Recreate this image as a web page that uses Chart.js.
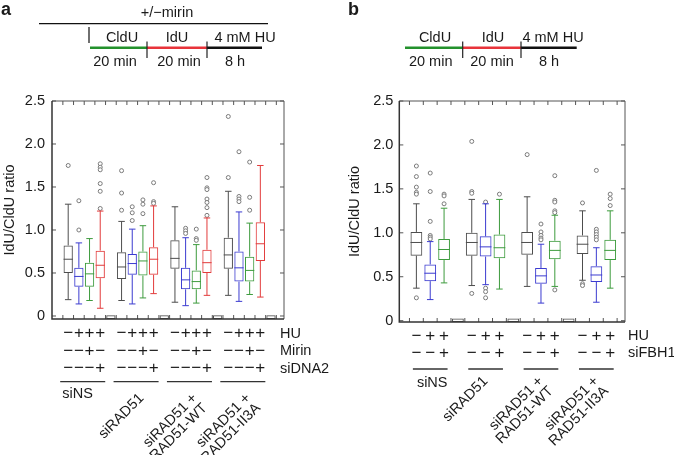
<!DOCTYPE html>
<html>
<head>
<meta charset="utf-8">
<script src="https://cdn.jsdelivr.net/npm/chart.js@4.4.1/dist/chart.umd.min.js"></script>
<style>
  html, body { margin: 0; padding: 0; background: #fff; }
  #wrap { position: relative; width: 674px; height: 455px; }
  .panel { position: absolute; top: 0; width: 337px; height: 455px; }
  #pa { left: 0; }
  #pb { left: 337px; }
</style>
</head>
<body>
<div id="wrap">
  <div class="panel" id="pa"><canvas id="chartA" width="337" height="455"></canvas></div>
  <div class="panel" id="pb"><canvas id="chartB" width="337" height="455"></canvas></div>
</div>
<script>
// box colours
const GRAY = '#4d4d4d', BLUE = '#3b3bd0', GREEN = '#3d9b3d', RED = '#e23b3b';

const yTicks = [0, 0.5, 1, 1.5, 2, 2.5];
const yTickLabels = ['0', '0.5', '1.0', '1.5', '2.0', '2.5'];

// ---- panel a : 4 groups x 4 boxes, an empty lane after each group ----
const slotsA = [1, 2, 3, 4, 6, 7, 8, 9, 11, 12, 13, 14, 16, 17, 18, 19];
const emptySlotsA = [5, 10, 15, 20];
const colorsA = [GRAY, BLUE, GREEN, RED, GRAY, BLUE, GREEN, RED, GRAY, BLUE, GREEN, RED, GRAY, BLUE, GREEN, RED];
const lowA  = [0.19, 0.14, 0.18, 0.09, 0.18, 0.14, 0.21, 0.26, 0.16, 0.12, 0.15, 0.24, 0.24, 0.17, 0.25, 0.22];
const q1A   = [0.50, 0.34, 0.34, 0.44, 0.43, 0.48, 0.47, 0.48, 0.55, 0.31, 0.31, 0.50, 0.55, 0.40, 0.40, 0.64];
const medA  = [0.66, 0.46, 0.49, 0.59, 0.57, 0.61, 0.64, 0.66, 0.67, 0.42, 0.40, 0.62, 0.71, 0.56, 0.53, 0.84];
const q3A   = [0.82, 0.56, 0.62, 0.76, 0.74, 0.72, 0.75, 0.80, 0.88, 0.56, 0.53, 0.77, 0.91, 0.75, 0.69, 1.09];
const highA = [1.30, 0.85, 0.90, 1.22, 1.10, 1.01, 1.05, 1.28, 1.27, 0.91, 0.83, 1.14, 1.45, 1.21, 1.08, 1.75];
const outA = [
  [1.75], [1.34, 1.00], [], [1.77, 1.73, 1.70, 1.54, 1.45, 1.25],
  [1.69, 1.43, 1.23], [1.27, 1.20, 1.11], [1.35, 1.30, 1.19], [1.55, 1.33, 1.31],
  [], [1.02, 0.99, 0.96], [1.01, 0.90, 0.88], [1.61, 1.49, 1.47, 1.36, 1.32, 1.26, 1.17],
  [2.32, 1.61], [1.91, 1.39, 1.36, 1.33], [1.79, 1.38, 1.23], []
];
const groupSlotsA = [[1, 4], [6, 9], [11, 14], [16, 19]];
const rowNamesA = ['HU', 'Mirin', 'siDNA2'];
const rowSignsA = [['−', '+', '+', '+'], ['−', '−', '+', '−'], ['−', '−', '−', '+']];

// ---- panel b : 4 groups x 3 boxes ----
const slotsB = [1, 2, 3, 5, 6, 7, 9, 10, 11, 13, 14, 15];
const emptySlotsB = [4, 8, 12];
const colorsB = [GRAY, BLUE, GREEN, GRAY, BLUE, GREEN, GRAY, BLUE, GREEN, GRAY, BLUE, GREEN];
const lowB  = [0.37, 0.24, 0.43, 0.40, 0.41, 0.36, 0.39, 0.20, 0.39, 0.46, 0.21, 0.37];
const q1B   = [0.74, 0.45, 0.69, 0.74, 0.73, 0.71, 0.75, 0.42, 0.70, 0.76, 0.44, 0.69];
const medB  = [0.89, 0.54, 0.81, 0.89, 0.84, 0.83, 0.89, 0.51, 0.80, 0.87, 0.52, 0.80];
const q3B   = [1.01, 0.64, 0.93, 1.00, 0.96, 0.98, 1.01, 0.60, 0.91, 0.97, 0.62, 0.92];
const highB = [1.33, 0.90, 1.28, 1.38, 1.33, 1.38, 1.41, 0.87, 1.20, 1.25, 0.83, 1.25];
const outB = [
  [1.76, 1.64, 1.52, 1.46, 1.44, 0.26], [1.68, 1.47, 1.13, 0.97, 0.95, 0.93], [1.44, 1.42, 1.33],
  [2.04, 1.47, 1.45, 0.31], [1.35, 0.37, 0.33, 0.26], [1.44],
  [1.89], [1.10, 1.01, 0.97, 0.94, 0.92], [1.65, 1.37, 1.35, 1.25, 1.23, 0.35],
  [1.34, 0.42, 0.40], [1.71, 1.04, 1.01, 0.98, 0.95, 0.92], [1.44, 1.39, 1.31]
];
const groupSlotsB = [[1, 3], [5, 7], [9, 11], [13, 15]];
const rowNamesB = ['HU', 'siFBH1'];
const rowSignsB = [['−', '+', '+'], ['−', '−', '+']];

const groupLabels = [['siNS'], ['siRAD51'], ['siRAD51 +', 'RAD51-WT'], ['siRAD51 +', 'RAD51-II3A']];

const FONT_FAMILY = '"Liberation Sans", Arial, Helvetica, sans-serif';
const FONT = { family: FONT_FAMILY, size: 14.5 };
const TEXT = '#1a1a1a';
const CSS_FONT = '14.5px ' + FONT_FAMILY;
const SIGN_FONT = '17px ' + FONT_FAMILY;
const ROW_FONT = '14.5px ' + FONT_FAMILY;

const panelA = {
  slots: slotsA, empty: emptySlotsA, colors: colorsA,
  low: lowA, q1: q1A, med: medA, q3: q3A, high: highA, out: outA,
  groups: groupSlotsA, rowNames: rowNamesA, rowSigns: rowSignsA,
  xBounds: Array.from({ length: 21 }, (_, i) => i + 0.5)
};
const panelB = {
  slots: slotsB, empty: emptySlotsB, colors: colorsB,
  low: lowB, q1: q1B, med: medB, q3: q3B, high: highB, out: outB,
  groups: groupSlotsB, rowNames: rowNamesB, rowSigns: rowSignsB,
  xBounds: Array.from({ length: 16 }, (_, i) => i + 0.5)
};

// layout of each panel (global page coords where noted)
const layoutA = {
  ox: 0,
  padding: { left: 0, top: 101, right: 53, bottom: 136 },
  yWidth: 52, tickPad: 7, titlePad: 1.3,
  xMin: 0, xMax: 20.7, yMin: -0.035, barPct: 0.87, emptyBox: [-0.035, 0.01],
  rowY: 333.5, rowGap: 17.5, rowNameX: 280,
  lineY: 381.7, lineL: 8, lineR: 5,
  nsDx: 2, nsY: 394, rotDx: 4, rotY: 396,
  diagram: {
    letter: 'a', letterX: 1,
    top: { text: '+/−mirin', x: 167, y: 12.7, line: [39, 268, 23.7], tick: [89, 27, 43] },
    bars: [[90, 147, '#23912c'], [147, 207, '#e8333a'], [207, 262, '#111']],
    seps: [147, 207],
    labels: [['CldU', 122, 38], ['IdU', 177, 38], ['4 mM HU', 245, 38],
             ['20 min', 115, 62], ['20 min', 179, 62], ['8 h', 235, 62]]
  }
};
const layoutB = {
  ox: 337,
  padding: { left: 8, top: 101, right: 49, bottom: 133 },
  yWidth: 54.3, tickPad: 6, titlePad: 1.3,
  xMin: 0.275, xMax: 15.56, yMin: -0.015, barPct: 0.85, emptyBox: [-0.015, 0.025],
  rowY: 336, rowGap: 17, rowNameX: 628,
  lineY: 369, lineL: 3.5, lineR: 3.5,
  nsDx: 4, nsY: 382.5, rotDx: 0, rotY: 379,
  diagram: {
    letter: 'b', letterX: 348,
    top: null,
    bars: [[405, 462.7, '#23912c'], [462.7, 521, '#e8333a'], [521, 576.7, '#111']],
    seps: [462.7, 521],
    labels: [['CldU', 435, 38], ['IdU', 493, 38], ['4 mM HU', 553, 38],
             ['20 min', 430.7, 62], ['20 min', 492, 62], ['8 h', 549, 62]]
  }
};

// whiskers, caps and medians on top of the floating bars
function boxPlugin(d) {
  return {
    id: 'boxWhiskers',
    afterDatasetsDraw(chart) {
      const { ctx } = chart;
      const y = chart.scales.y;
      const meta = chart.getDatasetMeta(0);
      const cap = 6.5;
      ctx.save();
      ctx.lineWidth = 1;
      meta.data.forEach((bar, i) => {
        const cx = bar.x, half = bar.width / 2;
        const yLow = y.getPixelForValue(d.low[i]);
        const yHigh = y.getPixelForValue(d.high[i]);
        const yQ1 = y.getPixelForValue(d.q1[i]);
        const yQ3 = y.getPixelForValue(d.q3[i]);
        const yMed = y.getPixelForValue(d.med[i]);
        ctx.strokeStyle = d.colors[i];
        ctx.beginPath();
        ctx.moveTo(cx, yQ3); ctx.lineTo(cx, yHigh);
        ctx.moveTo(cx, yQ1); ctx.lineTo(cx, yLow);
        ctx.moveTo(cx - cap / 2, yHigh); ctx.lineTo(cx + cap / 2, yHigh);
        ctx.moveTo(cx - cap / 2, yLow); ctx.lineTo(cx + cap / 2, yLow);
        ctx.moveTo(cx - half, yMed); ctx.lineTo(cx + half, yMed);
        ctx.stroke();
      });
      ctx.restore();
    }
  };
}

// box frame with inward ticks
function framePlugin() {
  return {
    id: 'frame',
    afterDraw(chart) {
      const { ctx, chartArea: a } = chart;
      const x = chart.scales.x, y = chart.scales.y;
      const tl = 4;
      ctx.save();
      ctx.strokeStyle = '#555';
      ctx.lineWidth = 1;
      ctx.beginPath();
      y.ticks.forEach(t => {
        const py = y.getPixelForValue(t.value);
        ctx.moveTo(a.left, py); ctx.lineTo(a.left + tl, py);
        ctx.moveTo(a.right, py); ctx.lineTo(a.right - tl, py);
      });
      x.ticks.forEach(t => {
        const px = x.getPixelForValue(t.value);
        ctx.moveTo(px, a.bottom); ctx.lineTo(px, a.bottom - tl);
        ctx.moveTo(px, a.top); ctx.lineTo(px, a.top + tl);
      });
      ctx.moveTo(a.left, a.top); ctx.lineTo(a.right, a.top); ctx.lineTo(a.right, a.bottom);
      ctx.stroke();
      ctx.strokeStyle = '#333';
      ctx.lineWidth = 1.5;
      ctx.beginPath();
      ctx.moveTo(a.left, a.top); ctx.lineTo(a.left, a.bottom); ctx.lineTo(a.right, a.bottom);
      ctx.stroke();
      ctx.restore();
    }
  };
}

// +/- table, group labels and the pulse-labelling scheme
function notesPlugin(d, lay) {
  return {
    id: 'notes',
    afterDraw(chart) {
      const { ctx } = chart;
      const x = chart.scales.x;
      const ox = lay.ox;
      ctx.save();
      ctx.fillStyle = TEXT;
      ctx.textBaseline = 'middle';

      // condition rows
      d.rowSigns.forEach((signs, r) => {
        const ry = lay.rowY + r * lay.rowGap;
        ctx.font = SIGN_FONT;
        ctx.textAlign = 'center';
        d.groups.forEach(([s0]) => {
          signs.forEach((sg, j) => ctx.fillText(sg, x.getPixelForValue(s0 + j), ry));
        });
        ctx.font = ROW_FONT;
        ctx.textAlign = 'left';
        ctx.fillText(d.rowNames[r], lay.rowNameX - ox, ry);
      });

      // group underlines and names
      ctx.font = CSS_FONT;
      ctx.strokeStyle = '#333';
      ctx.lineWidth = 1.3;
      d.groups.forEach(([s0, s1], g) => {
        const xl = x.getPixelForValue(s0) - lay.lineL;
        const xr = x.getPixelForValue(s1) + lay.lineR;
        ctx.beginPath();
        ctx.moveTo(xl, lay.lineY); ctx.lineTo(xr, lay.lineY);
        ctx.stroke();
        const lines = groupLabels[g];
        if (g === 0) {
          ctx.textAlign = 'left';
          ctx.fillText(lines[0], xl + lay.nsDx, lay.nsY);
        } else {
          const cx = x.getPixelForValue((s0 + s1) / 2);
          ctx.save();
          ctx.translate(cx + lay.rotDx, lay.rotY);
          ctx.rotate(-Math.PI / 4);
          ctx.textAlign = 'right';
          lines.forEach((t, k) => ctx.fillText(t, 0, k * 14));
          ctx.restore();
        }
      });

      // scheme at the top
      const dg = lay.diagram;
      ctx.textAlign = 'left';
      ctx.textBaseline = 'alphabetic';
      ctx.font = 'bold 18px ' + FONT_FAMILY;
      ctx.fillText(dg.letter, dg.letterX - ox, 15);
      ctx.font = CSS_FONT;
      ctx.textBaseline = 'middle';
      ctx.textAlign = 'center';
      if (dg.top) {
        ctx.fillText(dg.top.text, dg.top.x - ox, dg.top.y);
        ctx.strokeStyle = '#111';
        ctx.lineWidth = 1.2;
        ctx.beginPath();
        ctx.moveTo(dg.top.line[0] - ox, dg.top.line[2]); ctx.lineTo(dg.top.line[1] - ox, dg.top.line[2]);
        ctx.moveTo(dg.top.tick[0] - ox, dg.top.tick[1]); ctx.lineTo(dg.top.tick[0] - ox, dg.top.tick[2]);
        ctx.stroke();
      }
      ctx.lineWidth = 2.6;
      dg.bars.forEach(([x0, x1, c]) => {
        ctx.strokeStyle = c;
        ctx.beginPath();
        ctx.moveTo(x0 - ox, 47.7); ctx.lineTo(x1 - ox, 47.7);
        ctx.stroke();
      });
      ctx.strokeStyle = '#222';
      ctx.lineWidth = 1.2;
      ctx.beginPath();
      dg.seps.forEach(sx => { ctx.moveTo(sx - ox, 41.5); ctx.lineTo(sx - ox, 58); });
      ctx.stroke();
      dg.labels.forEach(([t, lx, ly]) => ctx.fillText(t, lx - ox, ly));
      ctx.restore();
    }
  };
}

function makePanel(id, d, lay) {
  const boxData = d.slots.map((s, i) => ({ x: s, y: [d.q1[i], d.q3[i]] }));
  const emptyData = d.empty.map(s => ({ x: s, y: lay.emptyBox }));
  const outData = d.slots.flatMap((s, i) => d.out[i].map(v => ({ x: s, y: v })));

  return new Chart(document.getElementById(id), {
    type: 'bar',
    data: {
      datasets: [
        {
          type: 'bar', data: boxData,
          borderColor: d.colors, backgroundColor: 'rgba(255,255,255,0)',
          borderWidth: 1, borderSkipped: false, grouped: false,
          barPercentage: lay.barPct, categoryPercentage: 1
        },
        {
          type: 'bar', data: emptyData,
          borderColor: GRAY, backgroundColor: 'rgba(255,255,255,0)',
          borderWidth: 1, borderSkipped: false, grouped: false,
          barPercentage: lay.barPct, categoryPercentage: 1
        },
        {
          type: 'scatter', data: outData,
          pointRadius: 2, borderWidth: 1,
          borderColor: '#7a7a7a', backgroundColor: '#fff'
        }
      ]
    },
    options: {
      responsive: false,
      animation: false,
      events: [],
      layout: { padding: lay.padding },
      plugins: { legend: { display: false }, tooltip: { enabled: false } },
      scales: {
        x: {
          type: 'linear', min: lay.xMin, max: lay.xMax,
          grid: { display: false }, border: { display: false },
          ticks: { display: false },
          afterBuildTicks: s => { s.ticks = d.xBounds.map(v => ({ value: v })); },
          afterFit: s => { s.height = 0; }
        },
        y: {
          type: 'linear', min: lay.yMin, max: 2.5,
          grid: { display: false, drawTicks: false }, border: { display: false },
          afterBuildTicks: s => { s.ticks = yTicks.map(v => ({ value: v })); },
          ticks: {
            callback: (v, i) => yTickLabels[i],
            font: FONT, color: TEXT, padding: lay.tickPad
          },
          title: {
            display: true, text: 'IdU/CldU ratio',
            font: FONT, color: TEXT, padding: { top: lay.titlePad, bottom: 0 }
          },
          afterFit: s => { s.width = lay.yWidth; }
        }
      }
    },
    plugins: [boxPlugin(d), framePlugin(), notesPlugin(d, lay)]
  });
}

makePanel('chartA', panelA, layoutA);
makePanel('chartB', panelB, layoutB);
</script>
</body>
</html>
